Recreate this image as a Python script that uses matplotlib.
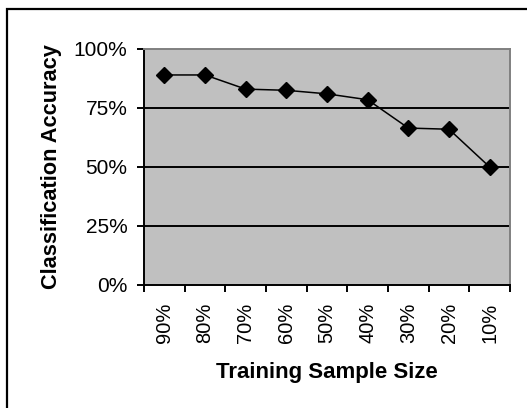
import matplotlib.pyplot as plt
from matplotlib.patches import Rectangle
from matplotlib.ticker import FixedLocator, PercentFormatter

plt.rcParams['font.family'] = ['Liberation Sans', 'DejaVu Sans']

sizes = ["90%", "80%", "70%", "60%", "50%", "40%", "30%", "20%", "10%"]
accuracy = [89.0, 89.0, 83.0, 82.5, 81.0, 78.5, 66.5, 66.0, 50.0]

fig = plt.figure(figsize=(5.27, 4.08), dpi=100)
ax = fig.add_axes([144 / 527, 1 - 285 / 408, 366 / 527, 236 / 408])

# outer chart frame, open on the right and bottom
fig.patches.append(Rectangle((7 / 527, -0.1), 1.2, 1 - 9 / 408 + 0.1,
                             transform=fig.transFigure, fill=False,
                             edgecolor='black', linewidth=1.6))

ax.set_facecolor('#C0C0C0')
x = range(len(sizes))
ax.plot(x, accuracy, color='black', linewidth=1.1, marker='D',
        markersize=8, zorder=3)

ax.set_xlim(-0.5, len(sizes) - 0.5)
ax.set_ylim(0, 100)
ax.set_yticks([0, 25, 50, 75, 100])
ax.yaxis.set_major_formatter(PercentFormatter(decimals=0))
for yv in (25, 50, 75):
    ax.axhline(yv, color='black', linewidth=1.4, zorder=1)

# category labels sit between the tick marks
ax.set_xticks([i - 0.5 for i in range(len(sizes) + 1)])
ax.set_xticklabels([])
ax.xaxis.set_minor_locator(FixedLocator(list(x)))
ax.set_xticklabels(sizes, minor=True, rotation=90, fontsize=14.5)
ax.tick_params(axis='x', which='minor', length=0, pad=13)
ax.tick_params(axis='x', which='major', length=5, width=1.4, direction='out')
ax.tick_params(axis='y', length=5, width=1.4, labelsize=15, pad=7)

for side in ('left', 'bottom'):
    ax.spines[side].set_color('black')
    ax.spines[side].set_linewidth(1.4)
for side in ('top', 'right'):
    ax.spines[side].set_color('#808080')
    ax.spines[side].set_linewidth(1.4)

ax.set_xlabel('Training Sample Size', fontsize=16, fontweight='bold')
ax.set_ylabel('Classification Accuracy', fontsize=15.7, fontweight='bold')
ax.xaxis.set_label_coords(0.5, -0.325)
ax.yaxis.set_label_coords(-0.224, 0.5)

fig.savefig('out.png', dpi=100)
